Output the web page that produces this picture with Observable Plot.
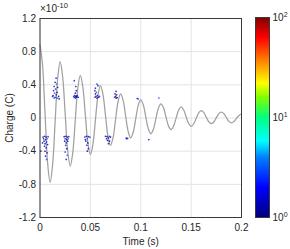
<!DOCTYPE html>
<html><head><meta charset="utf-8">
<script src="https://cdn.jsdelivr.net/npm/d3@7"></script>
<script src="https://cdn.jsdelivr.net/npm/@observablehq/plot@0.6"></script>
<style>
html,body{margin:0;padding:0;background:#fff;}
#wrap{position:relative;width:290px;height:249px;font-family:"Liberation Sans",Arial,sans-serif;color:#262626;}
#main{position:absolute;left:0;top:0;}
#cbar{position:absolute;left:250px;top:0;}
#exp{position:absolute;left:40px;top:1px;font-size:10px;}
#exp sup{font-size:7.5px;}
</style></head><body>
<div id="wrap"><div id="main"></div><div id="cbar"></div><div id="exp">×10<sup>-10</sup></div></div>
<script>
// Damped oscillation (Charge ×1e-10 C)
const curveT = [0,0.0025,0.005,0.0075,0.01,0.0125,0.015,0.0175,0.02,0.0225,0.025,0.0275,0.03,0.0325,0.035,0.0375,0.04,0.0425,0.045,0.0475,0.05,0.0525,0.055,0.0575,0.06,0.0625,0.065,0.0675,0.07,0.0725,0.075,0.0775,0.08,0.0825,0.085,0.0875,0.09,0.0925,0.095,0.0975,0.1,0.1025,0.105,0.1075,0.11,0.1125,0.115,0.1175,0.12,0.1225,0.125,0.1275,0.13,0.1325,0.135,0.1375,0.14,0.1425,0.145,0.1475,0.15,0.1525,0.155,0.1575,0.16,0.1625,0.165,0.1675,0.17,0.1725,0.175,0.1775,0.18,0.1825,0.185,0.1875,0.19,0.1925,0.195,0.1975,0.2];
const curveQ = [0.885,0.642,0.055,-0.532,-0.776,-0.563,-0.048,0.467,0.68,0.495,0.05,-0.395,-0.58,-0.42,-0.03,0.355,0.515,0.375,0.038,-0.30,-0.44,-0.318,-0.025,0.268,0.39,0.285,0.03,-0.225,-0.33,-0.239,-0.02,0.199,0.29,0.212,0.025,-0.162,-0.24,-0.173,-0.01,0.153,0.22,0.16,0.015,-0.13,-0.19,-0.137,-0.01,0.117,0.17,0.125,0.015,-0.095,-0.14,-0.10,-0.004,0.093,0.133,0.099,0.017,-0.066,-0.10,-0.072,-0.005,0.062,0.09,0.067,0.011,-0.045,-0.068,-0.048,0.002,0.052,0.072,0.053,0.006,-0.041,-0.06,-0.042,-0.005,0.03,0.048];

// Scatter events: time, charge, count (colour)
const dotT = [0.016,0.015,0.0165,0.014,0.0175,0.0155,0.0135,0.017,0.0145,0.016,0.013,0.0185,0.015,0.017,0.019,0.014,0.0125,
 0.034,0.0355,0.036,0.035,0.0345,0.0355,0.036,0.0365,0.034,0.035,0.037,0.038,0.0335,
 0.0565,0.0575,0.055,0.0545,0.056,0.055,0.057,0.0555,0.058,0.0545,0.0565,0.059,
 0.0755,0.0745,0.076,0.075,0.074,0.0765,0.0755,
 0.0965,0.0975,0.118,
 0.003,0.0045,0.006,0.008,0.0035,0.0055,0.007,0.004,0.0065,0.005,0.0025,0.0075,0.0045,0.006,0.005,0.007,0.0055,0.0065,0.0008,
 0.024,0.0255,0.027,0.0285,0.025,0.0265,0.028,0.0245,0.026,0.0275,0.0255,0.0265,0.025,0.027,0.026,
 0.0445,0.046,0.048,0.0495,0.045,0.047,0.0455,0.0475,0.0465,0.048,0.047,
 0.065,0.0665,0.069,0.07,0.066,0.068,0.067,0.069,0.068,
 0.0855,0.087,0.086,0.108];
const dotQ = [0.48,0.43,0.41,0.38,0.37,0.35,0.33,0.31,0.30,0.28,0.27,0.26,0.25,0.24,0.23,0.24,0.26,
 0.45,0.38,0.33,0.30,0.27,0.26,0.25,0.26,0.25,0.24,0.27,0.25,0.26,
 0.41,0.39,0.36,0.33,0.31,0.29,0.27,0.26,0.25,0.25,0.24,0.26,
 0.32,0.29,0.28,0.26,0.25,0.245,0.24,
 0.235,0.23,0.24,
 -0.23,-0.22,-0.23,-0.225,-0.25,-0.26,-0.25,-0.28,-0.29,-0.31,-0.30,-0.32,-0.34,-0.36,-0.40,-0.42,-0.46,-0.50,-0.40,
 -0.225,-0.22,-0.23,-0.225,-0.25,-0.26,-0.25,-0.28,-0.30,-0.28,-0.33,-0.37,-0.41,-0.45,-0.50,
 -0.23,-0.22,-0.225,-0.23,-0.26,-0.25,-0.28,-0.30,-0.33,-0.37,-0.40,
 -0.22,-0.225,-0.22,-0.23,-0.25,-0.24,-0.27,-0.28,-0.31,
 -0.24,-0.245,-0.25,-0.26];
const dotN = [2,1,3,2,1,1,2,1,3,1,2,1,1,2,1,3,2,
 2,1,1,2,1,1,1,2,3,1,2,1,2,
 2,1,2,1,3,1,2,1,1,2,1,2,
 1,2,1,1,2,1,1,
 2,3,3,
 2,1,1,2,1,1,3,1,2,1,2,1,2,1,2,1,2,3,1,
 1,2,1,2,1,1,3,1,2,1,2,1,2,3,2,
 2,1,1,2,1,3,2,1,2,2,1,
 1,1,2,1,1,2,1,2,1,
 3,2,1,2];

const xTicks = [0,0.05,0.1,0.15,0.2];
const yTicks = [-1.2,-0.8,-0.4,0,0.4,0.8,1.2];
const cbarTicks = [0,1,2]; // exponents of 10
const cmapStops = [1,2,4,5.8,10,16,22,32,63,100];
const cmapColors = ["#00007f","#0000ff","#0080ff","#00ffff","#00ff80","#80ff00","#ffff00","#ffa500","#ff0000","#800000"];

const curve = curveT.map((t,i)=>({t, q: curveQ[i]}));
const dots = dotT.map((t,i)=>({t, q: dotQ[i], n: dotN[i]}));
const colorSpec = {type:"log", domain: cmapStops, range: cmapColors, interpolate:"rgb"};
const font = {fontFamily:"Liberation Sans, Arial, sans-serif", fontSize:"10px", color:"#262626", background:"transparent"};

const main = Plot.plot({
  width: 250, height: 249,
  marginLeft: 39.5, marginRight: 9, marginTop: 18, marginBottom: 32,
  style: font,
  x: {domain:[0,0.2], ticks: xTicks, tickFormat: d=>String(d)},
  y: {domain:[-1.2,1.2], ticks: yTicks, tickFormat: d=>String(d)},
  color: colorSpec,
  marks: [
    Plot.gridX(xTicks, {stroke:"#e3e3e3", strokeOpacity:1}),
    Plot.gridY(yTicks, {stroke:"#e3e3e3", strokeOpacity:1}),
    Plot.line(curve, {x:"t", y:"q", stroke:"#a0a0a0", strokeWidth:1.25, curve:"catmull-rom"}),
    Plot.dot(dots, {x:"t", y:"q", r:0.85, fill:"n", fillOpacity:0.8, stroke:null}),
    Plot.axisX(xTicks, {anchor:"bottom", tickSize:0, tickPadding:6, label:"Time (s)", labelAnchor:"center", labelArrow:"none", labelOffset:27, tickFormat:d=>String(d)}),
    Plot.axisY(yTicks, {anchor:"left", tickSize:0, tickPadding:4, label:"Charge (C)", labelAnchor:"center", labelArrow:"none", labelOffset:34, tickFormat:d=>String(d)}),
    Plot.frame({stroke:"#3a3a3a", strokeWidth:1})
  ]
});
document.getElementById("main").append(main);

const cbar = Plot.plot({
  width: 40, height: 249,
  marginLeft: 5, marginRight: 21, marginTop: 17, marginBottom: 32,
  style: font,
  x: {domain:[0,1], axis:null},
  y: {domain:[0,2], ticks: cbarTicks},
  color: colorSpec,
  marks: [
    Plot.raster({x1:0, x2:1, y1:0, y2:2, width:1, height:200, fill:(x,y)=>Math.pow(10,y), imageRendering:"auto"}),
    Plot.axisY(cbarTicks, {anchor:"right", tickSize:0, tickPadding:3, label:null, tickFormat:d=>"10^"+d}),
    Plot.frame({stroke:"#3a3a3a", strokeWidth:1})
  ]
});
document.getElementById("cbar").append(cbar);
// render superscripts for colorbar labels
cbar.querySelectorAll("text").forEach(el=>{
  const m = /^10\^(\d)$/.exec(el.textContent.trim());
  if (!m) return;
  const target = el.querySelector("tspan") || el;
  target.textContent = "10";
  const sup = document.createElementNS("http://www.w3.org/2000/svg","tspan");
  sup.setAttribute("dy","-4");
  sup.setAttribute("font-size","7");
  sup.textContent = m[1];
  target.appendChild(sup);
});
</script>
</body></html>
